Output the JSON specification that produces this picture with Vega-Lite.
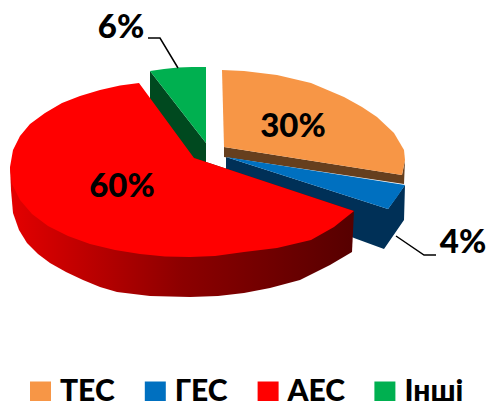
{"$schema":"https://vega.github.io/schema/vega-lite/v6.json","width":488,"height":401,"padding":0,"autosize":{"type":"none"},"background":"white","view":{"stroke":null},
"resolve":{"scale":{"fill":"independent"}},
"datasets":{
"shapes":[
{"part":"greenSide","seq":1,"x":150,"y":71},{"part":"greenSide","seq":2,"x":206,"y":143},{"part":"greenSide","seq":3,"x":206,"y":163},{"part":"greenSide","seq":4,"x":190,"y":158},{"part":"greenSide","seq":5,"x":150,"y":100},
{"part":"blueSide","seq":1,"x":226,"y":157},{"part":"blueSide","seq":2,"x":226,"y":178},{"part":"blueSide","seq":3,"x":354,"y":238},{"part":"blueSide","seq":4,"x":384,"y":249},{"part":"blueSide","seq":5,"x":404,"y":220},{"part":"blueSide","seq":6,"x":405,"y":185},{"part":"blueSide","seq":7,"x":388,"y":209},
{"part":"orangeSide","seq":1,"x":224,"y":147},{"part":"orangeSide","seq":2,"x":402,"y":175},{"part":"orangeSide","seq":3,"x":405,"y":160},{"part":"orangeSide","seq":4,"x":404,"y":184},{"part":"orangeSide","seq":5,"x":224,"y":157},
{"part":"redSide","seq":1,"x":10,"y":167},{"part":"redSide","seq":2,"x":11,"y":190},{"part":"redSide","seq":3,"x":13,"y":213},{"part":"redSide","seq":4,"x":19,"y":230},{"part":"redSide","seq":5,"x":27,"y":243},{"part":"redSide","seq":6,"x":38,"y":254},{"part":"redSide","seq":7,"x":50,"y":263},{"part":"redSide","seq":8,"x":66,"y":272},{"part":"redSide","seq":9,"x":83,"y":280},{"part":"redSide","seq":10,"x":100,"y":287},{"part":"redSide","seq":11,"x":117,"y":292},{"part":"redSide","seq":12,"x":150,"y":296},{"part":"redSide","seq":13,"x":190,"y":297},{"part":"redSide","seq":14,"x":218,"y":296},{"part":"redSide","seq":15,"x":244,"y":293},{"part":"redSide","seq":16,"x":270,"y":288},{"part":"redSide","seq":17,"x":300,"y":280},{"part":"redSide","seq":18,"x":330,"y":265},{"part":"redSide","seq":19,"x":352,"y":252},{"part":"redSide","seq":20,"x":354,"y":211},{"part":"redSide","seq":21,"x":194,"y":158},
{"part":"ТЕС","seq":1,"x":222,"y":70},{"part":"ТЕС","seq":2,"x":244,"y":71},{"part":"ТЕС","seq":3,"x":277,"y":75},{"part":"ТЕС","seq":4,"x":311,"y":83},{"part":"ТЕС","seq":5,"x":344,"y":97},{"part":"ТЕС","seq":6,"x":362,"y":107},{"part":"ТЕС","seq":7,"x":377,"y":117},{"part":"ТЕС","seq":8,"x":394,"y":133},{"part":"ТЕС","seq":9,"x":404,"y":150},{"part":"ТЕС","seq":10,"x":405,"y":160},{"part":"ТЕС","seq":11,"x":402,"y":175},{"part":"ТЕС","seq":12,"x":224,"y":147},
{"part":"ГЕС","seq":1,"x":226,"y":157},{"part":"ГЕС","seq":2,"x":405,"y":185},{"part":"ГЕС","seq":3,"x":397,"y":197},{"part":"ГЕС","seq":4,"x":388,"y":209},
{"part":"АЕС","seq":1,"x":139,"y":83},{"part":"АЕС","seq":2,"x":120,"y":85.5},{"part":"АЕС","seq":3,"x":100,"y":90},{"part":"АЕС","seq":4,"x":80,"y":96},{"part":"АЕС","seq":5,"x":62,"y":103},{"part":"АЕС","seq":6,"x":45,"y":113},{"part":"АЕС","seq":7,"x":30,"y":124},{"part":"АЕС","seq":8,"x":20,"y":136},{"part":"АЕС","seq":9,"x":13,"y":150},{"part":"АЕС","seq":10,"x":10,"y":167},{"part":"АЕС","seq":11,"x":12,"y":184},{"part":"АЕС","seq":12,"x":20,"y":200},{"part":"АЕС","seq":13,"x":32,"y":214},{"part":"АЕС","seq":14,"x":48,"y":226},{"part":"АЕС","seq":15,"x":68,"y":236},{"part":"АЕС","seq":16,"x":90,"y":244},{"part":"АЕС","seq":17,"x":115,"y":250},{"part":"АЕС","seq":18,"x":140,"y":254},{"part":"АЕС","seq":19,"x":165,"y":256.5},{"part":"АЕС","seq":20,"x":190,"y":257},{"part":"АЕС","seq":21,"x":215,"y":256},{"part":"АЕС","seq":22,"x":244,"y":252},{"part":"АЕС","seq":23,"x":277,"y":248},{"part":"АЕС","seq":24,"x":311,"y":240},{"part":"АЕС","seq":25,"x":334,"y":227},{"part":"АЕС","seq":26,"x":354,"y":211},{"part":"АЕС","seq":27,"x":194,"y":158},
{"part":"Інші","seq":1,"x":150,"y":71},{"part":"Інші","seq":2,"x":164,"y":69},{"part":"Інші","seq":3,"x":178,"y":67.5},{"part":"Інші","seq":4,"x":192,"y":67},{"part":"Інші","seq":5,"x":206,"y":67},{"part":"Інші","seq":6,"x":206,"y":143}
],
"leaders":[
{"leader":"Інші","seq":1,"x":148,"y":38},{"leader":"Інші","seq":2,"x":160,"y":38},{"leader":"Інші","seq":3,"x":178,"y":68},
{"leader":"ГЕС","seq":1,"x":396,"y":236},{"leader":"ГЕС","seq":2,"x":424,"y":255},{"leader":"ГЕС","seq":3,"x":436,"y":255}
],
"labels":[
{"label":"30%","x":293,"y":137},{"label":"4%","x":463,"y":253},{"label":"60%","x":122,"y":197},{"label":"6%","x":121,"y":38}
]},
"encoding":{
"x":{"field":"x","type":"quantitative","axis":null,"scale":{"domain":[0,488],"range":[0,488],"nice":false,"zero":false}},
"y":{"field":"y","type":"quantitative","axis":null,"scale":{"domain":[0,401],"range":[0,401],"nice":false,"zero":false}}
},
"layer":[
{"data":{"name":"shapes"},"transform":[{"filter":"indexof(['greenSide','blueSide','orangeSide'],datum.part)>=0"}],
"mark":{"type":"line","strokeWidth":0},
"encoding":{"order":{"field":"seq","type":"quantitative"},
"fill":{"field":"part","type":"nominal","legend":null,"scale":{"domain":["greenSide","blueSide","orangeSide"],"range":["#00491f","#003057","#663f1e"]}}}},
{"data":{"name":"shapes"},"transform":[{"filter":"datum.part==='redSide'"}],
"mark":{"type":"line","strokeWidth":0,"fill":{"gradient":"linear","x1":0,"y1":0,"x2":1,"y2":0,"stops":[{"offset":0,"color":"#e40000"},{"offset":0.5,"color":"#8c0000"},{"offset":1,"color":"#560000"}]}},
"encoding":{"order":{"field":"seq","type":"quantitative"}}},
{"data":{"name":"shapes"},"transform":[{"filter":"indexof(['ТЕС','ГЕС','АЕС','Інші'],datum.part)>=0"}],
"mark":{"type":"line","strokeWidth":0},
"encoding":{"order":{"field":"seq","type":"quantitative"},
"fill":{"field":"part","type":"nominal","scale":{"domain":["ТЕС","ГЕС","АЕС","Інші"],"range":["#f79646","#0070c0","#ff0000","#00b050"]},
"legend":{"title":null,"orient":"none","legendX":25.5,"legendY":377,"direction":"horizontal","columns":4,"columnPadding":24.8,"symbolType":"square","symbolSize":441,"symbolStrokeWidth":0,"symbolOpacity":1,"labelFont":"Lato","labelFontWeight":900,"labelFontSize":30,"labelColor":"#000000","labelOffset":4.5,"labelLimit":200}}}},
{"data":{"name":"leaders"},"mark":{"type":"line","stroke":"#000000","strokeWidth":1.5},"encoding":{"order":{"field":"seq","type":"quantitative"},"detail":{"field":"leader"}}},
{"data":{"name":"labels"},"mark":{"type":"text","font":"Lato","fontWeight":900,"fontSize":33,"color":"#000000","align":"center","baseline":"alphabetic"},"encoding":{"text":{"field":"label"}}}
]}
